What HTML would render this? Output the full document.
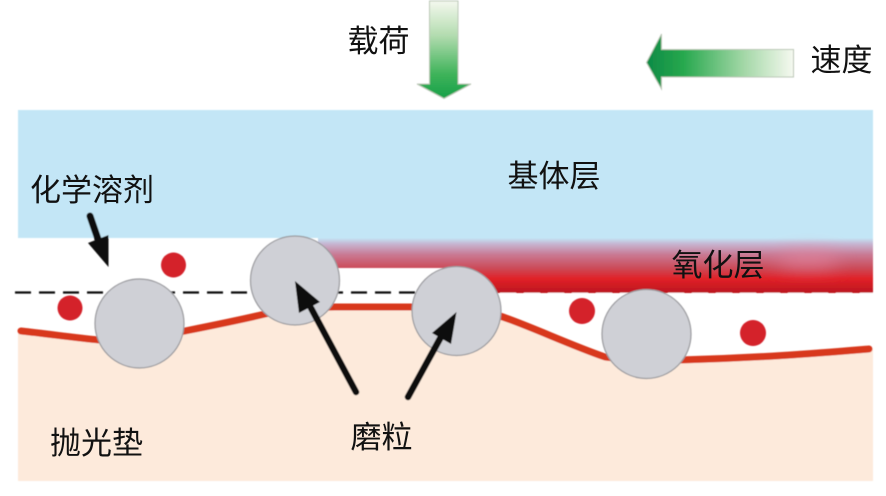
<!DOCTYPE html>
<html lang="zh">
<head>
<meta charset="utf-8">
<style>
html,body{margin:0;padding:0;background:#fff;width:886px;height:496px;overflow:hidden}
svg{display:block}
text{font-family:"Liberation Sans","WenQuanYi Zen Hei","Noto Sans CJK SC",sans-serif;font-size:31px;fill:#111}
</style>
</head>
<body>
<svg width="886" height="496" viewBox="0 0 886 496" xmlns="http://www.w3.org/2000/svg">
<defs>
<linearGradient id="ox" gradientUnits="userSpaceOnUse" x1="0" y1="238" x2="0" y2="293">
<stop offset="0" stop-color="#c3e6f6"/>
<stop offset="0.1" stop-color="#c6b8d4"/>
<stop offset="0.3" stop-color="#c97a94"/>
<stop offset="0.55" stop-color="#cc4a58"/>
<stop offset="0.74" stop-color="#e12128"/>
<stop offset="1" stop-color="#bb161e"/>
</linearGradient>
<linearGradient id="gd" x1="0" y1="0" x2="0" y2="1">
<stop offset="0" stop-color="#f4f8ee"/>
<stop offset="0.35" stop-color="#b4dcb0"/>
<stop offset="0.75" stop-color="#3fb35a"/>
<stop offset="1" stop-color="#16a049"/>
</linearGradient>
<linearGradient id="gl" x1="0" y1="0" x2="1" y2="0">
<stop offset="0" stop-color="#0d8a45"/>
<stop offset="0.25" stop-color="#27a84e"/>
<stop offset="0.65" stop-color="#a0d6a4"/>
<stop offset="1" stop-color="#f6f9f0"/>
</linearGradient>
<filter id="b" x="-5%" y="-5%" width="110%" height="110%"><feGaussianBlur stdDeviation="0.45"/></filter>
<filter id="b2" x="-50%" y="-100%" width="200%" height="300%"><feGaussianBlur stdDeviation="9"/></filter>
</defs>

<g filter="url(#b)">
<!-- base layers -->
<rect x="18" y="110" width="855" height="128" fill="#c3e6f6"/>
<path d="M18 330 C50 334 75 338 100 340 L185 331 C210 326 240 320 265 314 C290 308 310 307 335 307 L415 307 L500 316 C530 326 570 345 605 357 C630 360 650 360 680 360 C760 358 820 353 873 348 L873 481 L18 481 Z" fill="#fdeadb"/>
<!-- oxide layer -->
<rect x="318" y="238" width="140" height="30" fill="url(#ox)"/>
<rect x="456" y="238" width="417" height="55" fill="url(#ox)"/>
<ellipse cx="808" cy="260" rx="32" ry="9" fill="#e88aa6" opacity=".6" filter="url(#b2)"/>
<line x1="500" y1="293" x2="873" y2="293" stroke="#fff" stroke-width="1" stroke-dasharray="16 8" opacity=".7"/>
<!-- red line -->
<path d="M21 331 C50 334 75 338 100 340 L185 331 C210 326 240 320 265 314 C290 308 310 307 335 307 L415 307 L500 316 C530 326 570 345 605 357 C630 360 650 360 680 360 C760 358 820 353 869 349" fill="none" stroke="#d8381c" stroke-width="7" stroke-linecap="round"/>
<!-- dashed -->
<line x1="15" y1="292.500" x2="422" y2="292.500" stroke="#111" stroke-width="2.200" stroke-dasharray="16 8"/>
<!-- dots -->
<circle cx="70" cy="308" r="12.500" fill="#d4202a"/>
<circle cx="173.500" cy="265" r="12.500" fill="#d4202a"/>
<circle cx="582" cy="311" r="13" fill="#d4202a"/>
<circle cx="753" cy="333" r="13" fill="#d4202a"/>
<!-- particles -->
<g fill="#cfd0d6" stroke="#9a9a9e" stroke-width="1.200">
<circle cx="139.500" cy="323.500" r="44.500"/>
<circle cx="295" cy="280.500" r="44.500"/>
<circle cx="456.500" cy="311" r="44.500"/>
<circle cx="646.500" cy="334" r="44.500"/>
</g>
<!-- black arrows -->
<line x1="90" y1="216" x2="100" y2="245" stroke="#0a0a0a" stroke-width="7" stroke-linecap="round"/>
<path d="M108.500 267 L88 243 L108.500 235 Z" fill="#0a0a0a"/>
<line x1="356" y1="392" x2="311" y2="308" stroke="#0a0a0a" stroke-width="6.500" stroke-linecap="round"/>
<path d="M295 281 L299 313 L320 302 Z" fill="#0a0a0a"/>
<line x1="408" y1="397" x2="442" y2="335" stroke="#0a0a0a" stroke-width="6.500" stroke-linecap="round"/>
<path d="M456.500 312 L432 333 L451 344 Z" fill="#0a0a0a"/>
<!-- green arrows -->
<path d="M429.500 1 H458 V84 H471 L444 98.500 L417 84 H429.500 Z" fill="url(#gd)" stroke="#bcc8b8" stroke-width="1"/>
<path d="M793.500 49.500 V77 H661.500 V89 L646.500 62.500 L661.500 34 V49.500 Z" fill="url(#gl)" stroke="#bcc8b8" stroke-width="1"/>
</g>

<!-- labels -->
<text x="347.500" y="52">载荷</text>
<text x="810.500" y="71">速度</text>
<text x="507.500" y="187">基体层</text>
<text x="30" y="201">化学溶剂</text>
<text x="671.500" y="276">氧化层</text>
<text x="50" y="454">抛光垫</text>
<text x="350.500" y="448">磨粒</text>
</svg>
</body>
</html>
